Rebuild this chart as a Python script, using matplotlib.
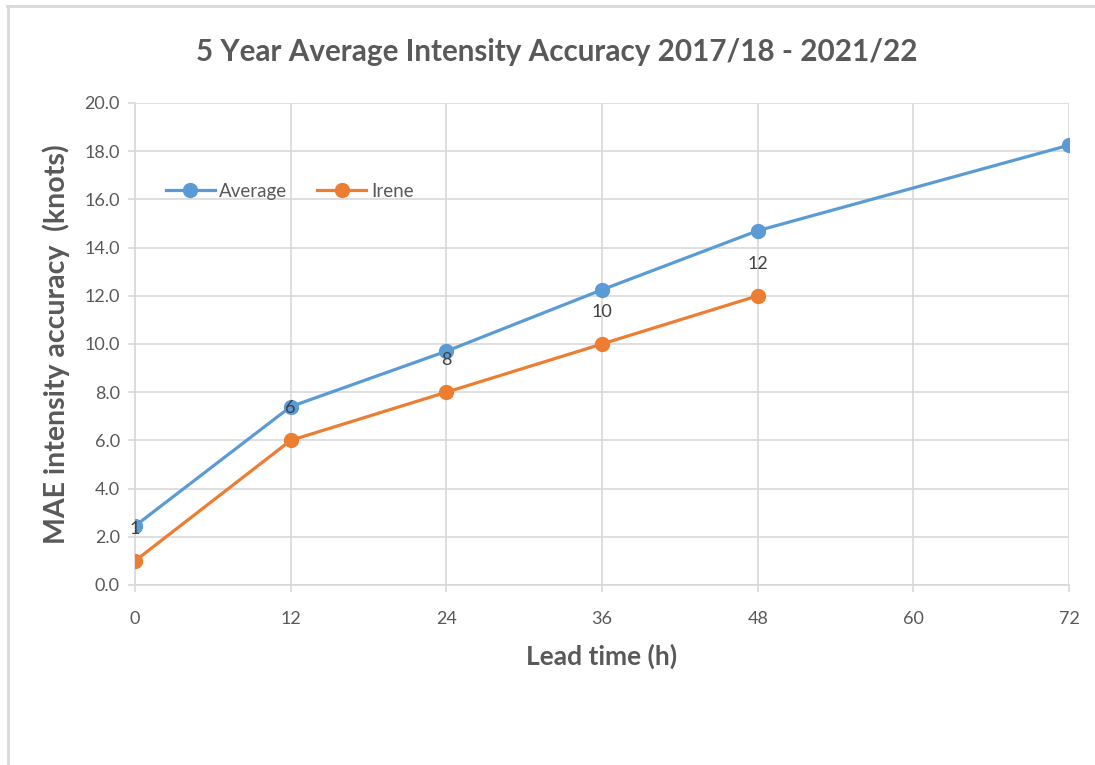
import matplotlib
matplotlib.use("Agg")
import matplotlib.pyplot as plt
from matplotlib.lines import Line2D
import numpy as np

# data
lead_times = ["0", "12", "24", "36", "48", "60", "72"]
average = [2.45, 7.4, 9.7, 12.25, 14.7, np.nan, 18.25]
irene = [1.0, 6.0, 8.0, 10.0, 12.0, np.nan, np.nan]
irene_labels = ["1", "6", "8", "10", "12"]

BLUE = "#5B9BD5"
ORANGE = "#ED7D31"
TEXT = "#595959"
GRID = "#D9D9D9"

plt.rcParams.update({
    "font.family": ["Lato", "DejaVu Sans"],
    "text.color": TEXT,
    "axes.labelcolor": TEXT,
    "xtick.color": TEXT,
    "ytick.color": TEXT,
})

fig = plt.figure(figsize=(10.95, 7.65), dpi=100)
ax = fig.add_axes([0.1233, 0.2353, 0.8530, 0.6301])

x = np.arange(len(lead_times))
avg = np.array(average)
ire = np.array(irene)

# Excel-style: gaps bridged by the line
m = ~np.isnan(avg)
ax.plot(x[m], avg[m], color=BLUE, lw=2.3, marker="o", ms=10, label="Average", zorder=3)
m = ~np.isnan(ire)
ax.plot(x[m], ire[m], color=ORANGE, lw=2.3, marker="o", ms=10, label="Irene", zorder=3)

for xi, yi, lab in zip(x[m], ire[m], irene_labels):
    ax.annotate(lab, (xi, yi), xytext=(0, 23), textcoords="offset points",
                ha="center", va="center", fontsize=13, color="#404040", zorder=4)

ax.set_xlim(0, 6)
ax.set_ylim(0, 20)
ax.set_xticks(x)
ax.set_xticklabels(lead_times)
ax.set_yticks(np.arange(0, 21, 2))
ax.set_yticklabels([f"{v:.1f}" for v in np.arange(0, 21, 2)])
ax.tick_params(axis="both", labelsize=13, length=5, width=1.2, color=GRID)
ax.tick_params(axis="x", pad=14)
ax.tick_params(axis="y", pad=6)

ax.grid(True, color=GRID, lw=1.2, zorder=0)
ax.set_axisbelow(True)
for s in ["top", "right"]:
    ax.spines[s].set_visible(False)
for s in ["left", "bottom"]:
    ax.spines[s].set_color(GRID)
    ax.spines[s].set_linewidth(1.2)

ax.set_xlabel("Lead time (h)", fontsize=19, fontweight="bold", labelpad=12)
ax.set_ylabel("MAE intensity accuracy  (knots)", fontsize=20.5, fontweight="bold", labelpad=10)
fig.text(0.508, 0.932, "5 Year Average Intensity Accuracy 2017/18 - 2021/22",
         ha="center", va="center", fontsize=21.3, fontweight="bold", color=TEXT)

ax.legend(loc="upper left", bbox_to_anchor=(0.015, 0.87), ncol=2, frameon=False,
          fontsize=13.5, handlelength=2.6, columnspacing=1.6, handletextpad=0.25)

# outer chart border (top and left visible)
fig.add_artist(Line2D([0.0068, 1.0], [0.992, 0.992], color="#D9D9D9", lw=2, transform=fig.transFigure))
fig.add_artist(Line2D([0.0075, 0.0075], [0.0, 0.992], color="#D9D9D9", lw=2, transform=fig.transFigure))

fig.savefig("out.png", dpi=100)
